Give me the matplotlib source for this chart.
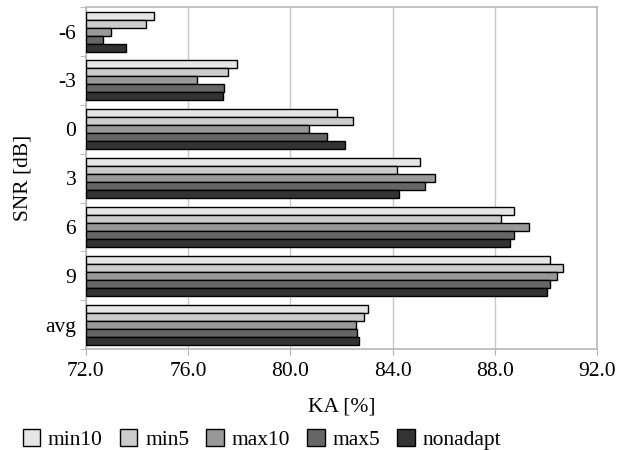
import matplotlib
matplotlib.use("Agg")
import matplotlib.pyplot as plt
import numpy as np

plt.rcParams['font.family'] = ['Liberation Serif', 'DejaVu Serif']

snr = ["-6", "-3", "0", "3", "6", "9", "avg"]
series = ["min10", "min5", "max10", "max5", "nonadapt"]
colors = ["#e6e6e6", "#cccccc", "#999999", "#666666", "#333333"]

min10 = [74.66, 77.92, 81.84, 85.07, 88.75, 90.17, 83.06]
min5 = [74.34, 77.58, 82.44, 84.17, 88.25, 90.68, 82.90]
max10 = [72.99, 76.33, 80.75, 85.67, 89.34, 90.42, 82.58]
max5 = [72.67, 77.41, 81.42, 85.26, 88.76, 90.17, 82.62]
nonadapt = [73.58, 77.35, 82.16, 84.26, 88.59, 90.03, 82.67]
values = [min10, min5, max10, max5, nonadapt]

fs = 15.5

fig = plt.figure(figsize=(6.27, 4.5), dpi=100)
ax = fig.add_axes([0.137, 0.2244, 0.815, 0.7596])

y = np.arange(len(snr))
h = 0.164
for i, (name, vals) in enumerate(zip(series, values)):
    ax.barh(y + (i - 2) * h, np.array(vals) - 72, left=72, height=h,
            color=colors[i], edgecolor="black", linewidth=1.0, label=name, zorder=3)

ax.set_xlim(72, 92)
ax.set_ylim(len(snr) - 0.5, -0.5)
ax.set_xticks(np.arange(72, 92.1, 4))
ax.set_xticklabels([f"{v:.1f}" for v in np.arange(72, 92.1, 4)])
ax.set_yticks(y)
ax.set_yticklabels(snr)
ax.set_yticks(np.arange(-0.5, len(snr)), minor=True)
ax.tick_params(axis="y", which="major", length=0, labelsize=fs, pad=7)
ax.tick_params(axis="y", which="minor", length=4, color="#b0b0b0")
ax.tick_params(axis="x", length=4, color="#b0b0b0", labelsize=fs, pad=5)
ax.grid(axis="x", color="#c8c8c8", linewidth=1.0, zorder=0)
for s in ax.spines.values():
    s.set_color("#b8b8b8")
    s.set_linewidth(1.2)

ax.set_xlabel("KA [%]", fontsize=fs, labelpad=12)
ax.set_ylabel("SNR [dB]", fontsize=fs)
ax.yaxis.set_label_coords(-0.105, 0.5)

fig.legend(loc="center left", bbox_to_anchor=(0.036, 0.023), ncol=5, frameon=False,
           fontsize=fs, handlelength=0.8, handleheight=0.8, handletextpad=0.37,
           columnspacing=0.8, borderpad=0, borderaxespad=0)

fig.savefig("out.png", dpi=100)
